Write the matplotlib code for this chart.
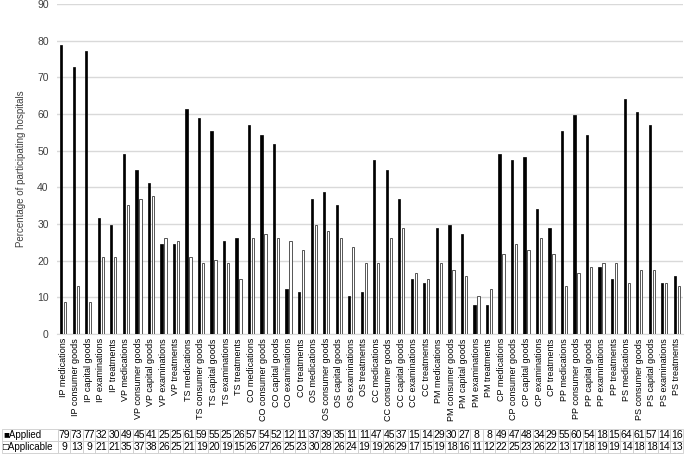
import numpy as np
import matplotlib
matplotlib.use('Agg')
from matplotlib import pyplot as plt

plt.rcParams['font.family'] = ['Liberation Sans', 'DejaVu Sans']

groups = ['IP', 'VP', 'TS', 'CO', 'OS', 'CC', 'PM', 'CP', 'PP', 'PS']
items = ['medications', 'consumer goods', 'capital goods', 'examinations', 'treatments']
categories = [g + ' ' + it for g in groups for it in items]

applied = [78.9, 72.8, 77.2, 31.6, 29.8,
           49.1, 44.7, 41.2, 24.6, 24.6,
           61.4, 58.8, 55.3, 25.4, 26.3,
           57.0, 54.4, 51.8, 12.3, 11.4,
           36.8, 38.6, 35.1, 10.5, 11.4,
           47.4, 44.7, 36.8, 14.9, 14.0,
           28.9, 29.8, 27.2, 7.9, 7.9,
           49.1, 47.4, 48.2, 34.2, 28.9,
           55.3, 59.6, 54.4, 18.4, 14.9,
           64.0, 60.5, 57.0, 14.0, 15.8]
applicable = [8.8, 13.2, 8.8, 21.1, 21.1,
              35.1, 36.8, 37.7, 26.3, 25.4,
              21.1, 19.3, 20.2, 19.3, 14.9,
              26.3, 27.2, 26.3, 25.4, 22.8,
              29.8, 28.1, 26.3, 23.7, 19.3,
              19.3, 26.3, 28.9, 16.7, 14.9,
              19.3, 17.5, 15.8, 10.5, 12.3,
              21.9, 24.6, 22.8, 26.3, 21.9,
              13.2, 16.7, 18.4, 19.3, 19.3,
              14.0, 17.5, 17.5, 14.0, 13.2]

x = np.arange(len(categories))
W, H = 685, 458
fig = plt.figure(figsize=(W / 100, H / 100), dpi=100)
ax = fig.add_axes([57 / W, 1 - 334 / H, 626 / W, 330 / H])

ax.bar(x - 0.16, applied, width=0.18, color='black', edgecolor='black', linewidth=0.5, zorder=3)
ax.bar(x + 0.16, applicable, width=0.18, color='white', edgecolor='#555555', linewidth=0.7, zorder=3)

ax.set_xlim(-0.5, len(categories) - 0.5)
ax.set_ylim(0, 90)
ax.set_yticks(range(0, 91, 10))
ax.yaxis.grid(True, color='#d9d9d9', linewidth=1)
ax.set_axisbelow(True)
for s in ['top', 'right', 'left']:
    ax.spines[s].set_visible(False)
ax.spines['bottom'].set_color('#d9d9d9')
ax.tick_params(axis='y', length=0, labelsize=7.5, colors='#404040', pad=6)
ax.set_xticks(x)
ax.set_xticklabels(categories, rotation=90, fontsize=6.5)
ax.tick_params(axis='x', length=0, pad=3)
ax.set_ylabel('Percentage of participating hospitals', fontsize=7, color='#404040', labelpad=8)

# data table
tax = fig.add_axes([2 / W, 1 - 453 / H, 681 / W, 24 / H])
tax.axis('off')
cell_text = [['\u25a0Applied'] + [str(int(np.floor(v + 0.5))) for v in applied],
             ['\u25a1Applicable'] + [str(int(np.floor(v + 0.5))) for v in applicable]]
col_w = [56 / 681] + [626 / 50 / 681] * len(categories)
tbl = tax.table(cellText=cell_text, colWidths=col_w, bbox=[0, 0, 1, 1], cellLoc='center')
tbl.auto_set_font_size(False)
for (r, c), cell in tbl.get_celld().items():
    cell.set_edgecolor('#cccccc')
    cell.set_linewidth(0.6)
    cell.get_text().set_fontsize(7.5)
    cell.PAD = 0.02
    if c == 0:
        cell.get_text().set_fontsize(7)
        cell.get_text().set_ha('left')
        cell._loc = 'left'

fig.savefig('out.png', dpi=100)
